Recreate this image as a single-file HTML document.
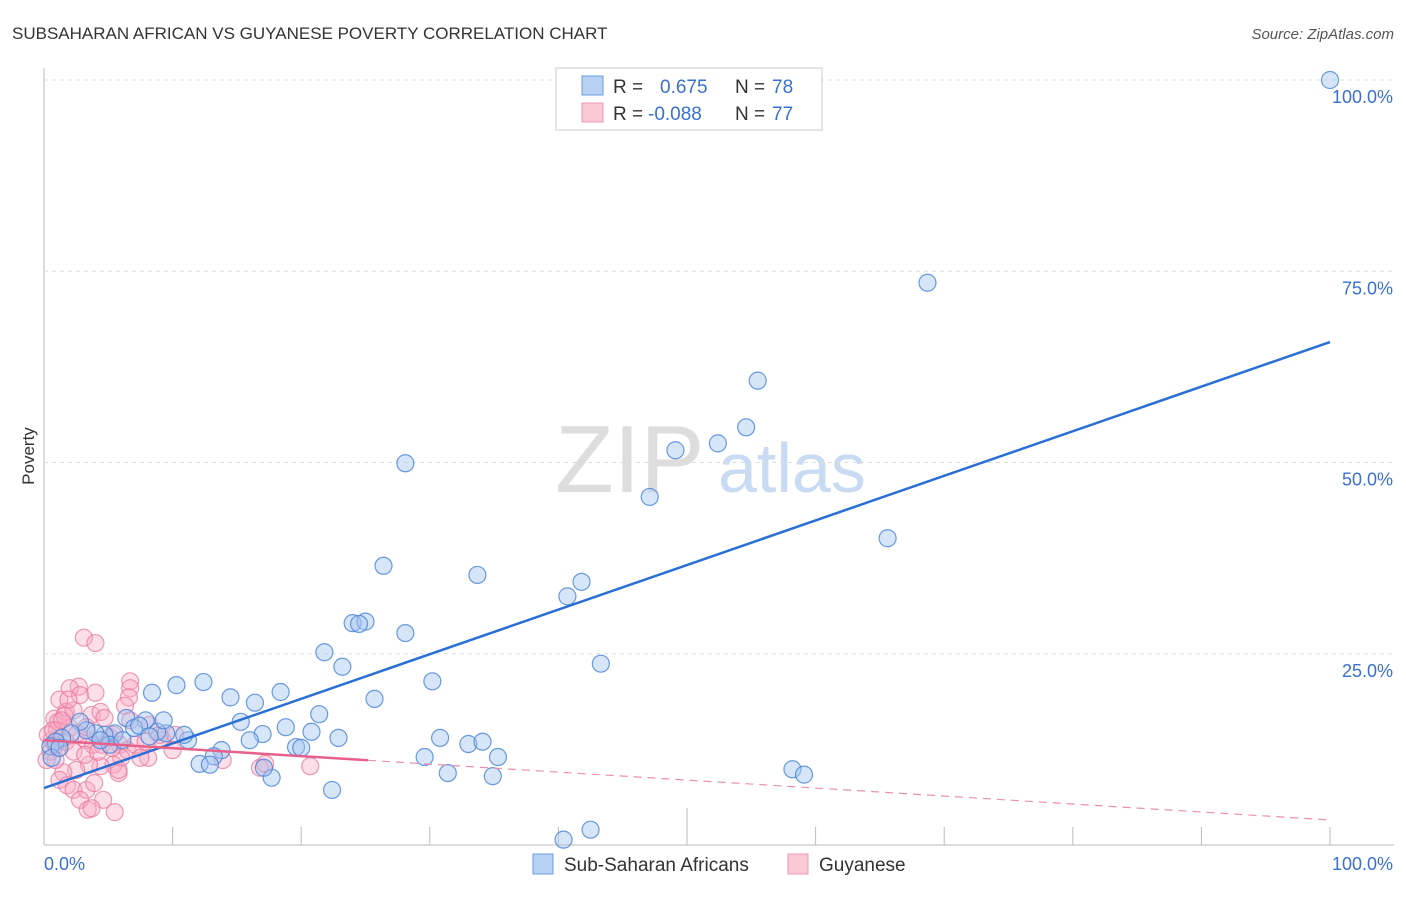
<!DOCTYPE html>
<html><head><meta charset="utf-8"><style>
body{margin:0;background:#fff;font-family:"Liberation Sans",sans-serif}
svg text{font-family:"Liberation Sans",sans-serif}
</style></head><body>
<svg id="chart" width="1406" height="892">
<text x="12" y="39" font-size="17" fill="#333">SUBSAHARAN AFRICAN VS GUYANESE POVERTY CORRELATION CHART</text>
<text x="1394" y="39" font-size="15" fill="#555" text-anchor="end" font-style="italic">Source: ZipAtlas.com</text>
<text x="34" y="456" font-size="17" fill="#333" text-anchor="middle" transform="rotate(-90 34 456)">Poverty</text>
<text x="555" y="492" font-size="96" fill="#ddd" font-family="Liberation Serif">ZIP</text>
<text x="718" y="492" font-size="70" fill="#c9daf3">atlas</text>
<g id="grid"></g><g id="pinkPts"></g><g id="bluePts"></g><g id="lines"></g>
<g>
<rect x="556" y="68" width="266" height="62" fill="#fff" stroke="#ccc"/>
<rect x="582" y="76" width="21" height="19" fill="#b8d2f4" stroke="#6a9be0"/>
<rect x="582" y="103" width="21" height="19" fill="#fbc8d8" stroke="#ee9ab5"/>
<text x="613" y="93" font-size="19" fill="#333">R = </text><text x="660" y="93" font-size="19" fill="#3a70d0">0.675</text>
<text x="735" y="93" font-size="19" fill="#333">N = </text><text x="772" y="93" font-size="19" fill="#3a70d0">78</text>
<text x="613" y="120" font-size="19" fill="#333">R = </text><text x="648" y="120" font-size="19" fill="#3a70d0">-0.088</text>
<text x="735" y="120" font-size="19" fill="#333">N = </text><text x="772" y="120" font-size="19" fill="#3a70d0">77</text>
</g>
<g>
<rect x="533" y="854" width="20" height="20" fill="#b8d2f4" stroke="#6a9be0"/>
<text x="564" y="871" font-size="19" fill="#333">Sub-Saharan Africans</text>
<rect x="788" y="854" width="20" height="20" fill="#fbc8d8" stroke="#ee9ab5"/>
<text x="819" y="871" font-size="19" fill="#333">Guyanese</text>
</g>
</svg>
<script>
const blueX=[100,68.7,55.5,54.6,52.4,49.1,47.1,28.1,65.6,26.4,33.7,41.8,40.7,24.0,25.0,24.5,28.1,21.8,43.3,23.2,30.2,8.4,10.3,12.4,18.4,14.5,25.7,16.4,21.4,15.3,18.8,20.8,17.0,22.9,30.8,33.0,34.1,35.3,29.6,31.4,34.9,22.4,17.7,17.1,40.4,42.5,58.2,59.1,19.6,20.0,16.0,13.8,13.2,12.1,12.9,11.2,10.9,9.5,8.8,7.9,6.4,7.0,5.5,4.7,4.0,3.3,2.8,2.1,1.4,0.9,0.5,0.6,1.2,9.3,7.4,5.1,8.2,4.4,6.1];
const blueY=[100,73.5,60.7,54.6,52.5,51.6,45.5,49.9,40.1,36.5,35.3,34.4,32.5,29.0,29.2,28.9,27.7,25.2,23.7,23.3,21.4,19.9,20.9,21.3,20.0,19.3,19.1,18.6,17.1,16.1,15.4,14.8,14.5,14.0,14.0,13.2,13.5,11.5,11.5,9.4,9.0,7.2,8.8,10.1,0.7,2.0,9.9,9.2,12.8,12.7,13.7,12.4,11.6,10.6,10.5,13.7,14.4,14.6,14.8,16.3,16.6,15.3,14.6,14.4,14.6,15.0,16.1,14.6,14.0,13.5,12.9,11.4,12.7,16.3,15.6,13.1,14.2,13.7,13.7];
const pinkX=[3.1,4.0,6.7,6.7,6.6,2.7,2.0,2.8,4.0,1.2,1.7,0.8,1.0,2.0,2.6,3.3,3.8,4.5,5.1,5.4,5.9,6.5,7.1,7.9,8.1,6.0,5.4,4.4,3.5,2.5,1.5,1.2,1.8,2.3,3.3,2.8,3.9,4.6,3.4,3.7,5.5,5.8,5.8,1.2,0.5,0.6,0.3,0.9,0.2,1.1,1.6,3.7,4.4,4.7,6.3,5.3,8.2,9.2,10.2,13.9,16.8,20.7,17.2,10.0,0.9,1.7,2.3,0.7,1.4,3.2,4.2,7.5,9.0,6.7,3.3,2.3,1.9];
const pinkY=[27.1,26.4,21.4,20.5,19.3,20.7,20.5,19.6,19.9,19.0,17.4,16.5,15.0,15.3,14.6,13.7,13.1,13.1,14.1,14.4,13.1,12.4,13.1,13.5,11.4,11.4,10.5,10.3,10.5,9.8,9.5,8.5,7.8,7.2,7.2,5.9,8.1,5.9,4.6,4.8,4.3,9.4,9.8,12.7,12.2,13.7,14.4,11.1,11.1,16.1,16.9,17.0,17.4,16.6,18.2,12.7,15.7,13.7,14.4,11.1,10.1,10.3,10.6,12.4,13.1,13.5,12.2,15.0,16.3,11.8,12.2,11.4,14.4,16.3,15.4,17.6,19.0];
const blueTrend=[7.45,65.75];
const pinkTrend=[13.7,3.27];
const pinkSolidEnd=25.2;
const yTicks=[25,50,75,100];
const xTicks=[0,10,20,30,40,50,60,70,80,90,100];
const NS='http://www.w3.org/2000/svg';
const sx=v=>44+v*12.86, sy=v=>845-v*7.65;
function mk(tag,attrs,parent){const e=document.createElementNS(NS,tag);for(const k in attrs)e.setAttribute(k,attrs[k]);document.getElementById(parent).appendChild(e);return e;}
mk('line',{x1:44,y1:68,x2:44,y2:845,stroke:'#bbb'},'grid');
mk('line',{x1:44,y1:845,x2:1394,y2:845,stroke:'#bbb'},'grid');
yTicks.forEach(t=>{
  const g=mk('line',{x1:44,y1:sy(t),x2:1394,y2:sy(t),stroke:'#ddd','stroke-dasharray':'4 4'},'grid');
  
  
  const l=mk('text',{x:1393,y:sy(t)+23,'font-size':18,fill:'#3a70d0','text-anchor':'end'},'grid');
  l.textContent=t.toFixed(1)+'%';
  
  
});
xTicks.forEach(t=>{
  if(t===0)return;
  const tk=mk('line',{x1:sx(t),y1:845,x2:sx(t),y2:t===50?808:827,stroke:'#bbb'},'grid');
  
  
});
[[0,'start',44],[100,'end',1393]].forEach(([v,a,x])=>{
  const l=mk('text',{x:x,y:870,'font-size':18,fill:'#3a70d0','text-anchor':a},'grid');
  l.textContent=v.toFixed(1)+'%';
  
  
});
pinkX.forEach((x,i)=>{
  const c=mk('circle',{cx:sx(x),cy:sy(pinkY[i]),r:8.5,fill:'rgba(246,168,194,0.38)',stroke:'rgba(232,120,158,0.75)','stroke-width':1.2},'pinkPts');
  
  
});
blueX.forEach((x,i)=>{
  const c=mk('circle',{cx:sx(x),cy:sy(blueY[i]),r:8.5,fill:'rgba(164,198,240,0.45)',stroke:'rgba(70,130,215,0.8)','stroke-width':1.2},'bluePts');
  
  
});
const bt=mk('line',{x1:sx(0),y1:sy(blueTrend[0]),x2:sx(100),y2:sy(blueTrend[1]),stroke:'#2a6fd6','stroke-width':2.5},'lines');


const pv=x=>pinkTrend[0]+(pinkTrend[1]-pinkTrend[0])*x/100;
const ps=mk('line',{x1:sx(0),y1:sy(pv(0)),x2:sx(pinkSolidEnd),y2:sy(pv(pinkSolidEnd)),stroke:'#e6608a','stroke-width':2.5},'lines');


const pd=mk('line',{x1:sx(pinkSolidEnd),y1:sy(pv(pinkSolidEnd)),x2:sx(100),y2:sy(pv(100)),stroke:'#eb8fae','stroke-width':1.2,'stroke-dasharray':'8 6'},'lines');


</script>
</body></html>
